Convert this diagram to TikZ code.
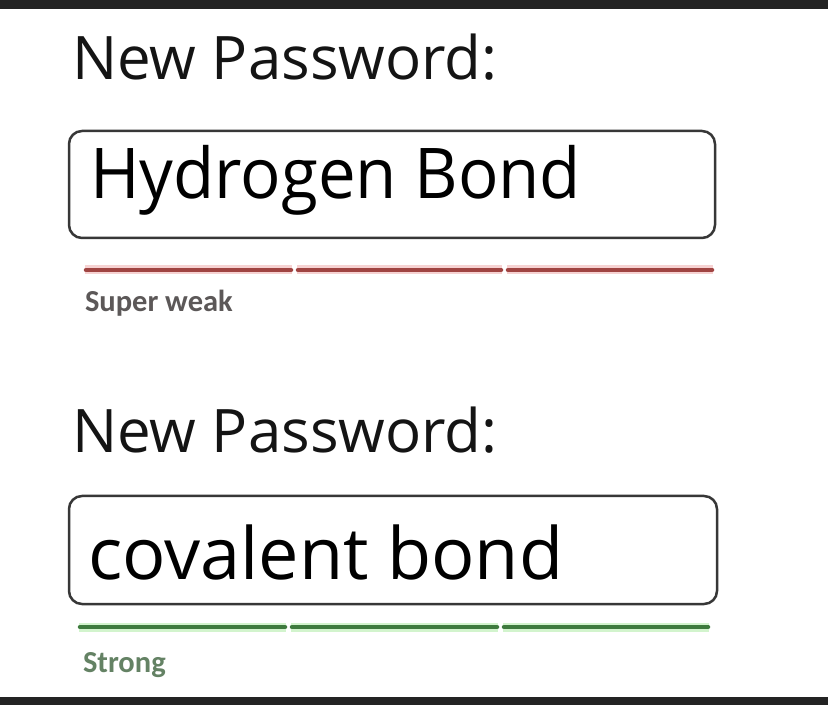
\documentclass[tikz,border=0pt]{standalone}
\usepackage{fontspec}
\setmainfont{Open Sans}
\newfontfamily\hintfont{Carlito}
\begin{document}
\begin{tikzpicture}[x=1pt,y=1pt]
\definecolor{fillColor}{RGB}{255,255,255}
\path[use as bounding box,fill=fillColor] (0,0) rectangle (828,705);
\begin{scope}
\definecolor{fillColor}{RGB}{35,35,35}

\path[fill=fillColor] (  0.00,696.00) rectangle (828.00,705.00);

\path[fill=fillColor] (  0.00,  0.00) rectangle (828.00,  8.00);
\end{scope}
\begin{scope}
\definecolor{drawColor}{RGB}{20,20,20}

\node[text=drawColor,anchor=base west,inner sep=0pt, outer sep=0pt] (title1) at ( 72.00,625.00) {\fontsize{60}{62}\selectfont New Password:};

\node[text=drawColor,anchor=base west,inner sep=0pt, outer sep=0pt] (title2) at ( 72.00,252.00) {\fontsize{60}{62}\selectfont New Password:};
\end{scope}
\begin{scope}
\definecolor{drawColor}{RGB}{55,55,55}

\path[draw=drawColor,line width= 2.5pt,rounded corners=13pt] ( 69.00,467.00) rectangle (715.00,574.00);

\path[draw=drawColor,line width= 2.5pt,rounded corners=13pt] ( 69.00,101.00) rectangle (717.00,209.00);
\definecolor{drawColor}{RGB}{0,0,0}

\node[text=drawColor,anchor=base west,inner sep=0pt, outer sep=0pt, xscale=0.96] (pass1) at ( 90.00,506.00) {\fontsize{70}{72}\selectfont Hydrogen Bond};

\node[text=drawColor,anchor=base west,inner sep=0pt, outer sep=0pt] (pass2) at ( 88.00,125.00) {\fontsize{72}{74}\selectfont covalent bond};
\end{scope}
\begin{scope}
\definecolor{haloColor}{RGB}{246,210,210}
\definecolor{drawColor}{RGB}{160,68,66}

\path[draw=haloColor,line width= 9pt] ( 85.00,435.00) -- (292.00,435.00);

\path[draw=haloColor,line width= 9pt] (297.00,435.00) -- (502.00,435.00);

\path[draw=haloColor,line width= 9pt] (507.00,435.00) -- (713.00,435.00);

\path[draw=drawColor,line width= 4.5pt,line cap=round] ( 86.00,435.00) -- (291.00,435.00);

\path[draw=drawColor,line width= 4.5pt,line cap=round] (298.00,435.00) -- (501.00,435.00);

\path[draw=drawColor,line width= 4.5pt,line cap=round] (508.00,435.00) -- (712.00,435.00);
\definecolor{drawColor}{RGB}{92,88,88}

\node[text=drawColor,anchor=base west,inner sep=0pt, outer sep=0pt] (hint1) at ( 85.00,393.00) {\hintfont\bfseries\fontsize{30.5}{32}\selectfont Super weak};
\end{scope}
\begin{scope}
\definecolor{haloColor}{RGB}{210,244,205}
\definecolor{drawColor}{RGB}{62,122,62}

\path[draw=haloColor,line width= 9pt] ( 79.00, 78.00) -- (286.00, 78.00);

\path[draw=haloColor,line width= 9pt] (291.00, 78.00) -- (498.00, 78.00);

\path[draw=haloColor,line width= 9pt] (503.00, 78.00) -- (709.00, 78.00);

\path[draw=drawColor,line width= 4.5pt,line cap=round] ( 80.00, 78.00) -- (285.00, 78.00);

\path[draw=drawColor,line width= 4.5pt,line cap=round] (292.00, 78.00) -- (497.00, 78.00);

\path[draw=drawColor,line width= 4.5pt,line cap=round] (504.00, 78.00) -- (708.00, 78.00);
\definecolor{drawColor}{RGB}{100,130,100}

\node[text=drawColor,anchor=base west,inner sep=0pt, outer sep=0pt] (hint2) at ( 83.00, 33.00) {\hintfont\bfseries\fontsize{30.5}{32}\selectfont Strong};
\end{scope}
\end{tikzpicture}
\end{document}
